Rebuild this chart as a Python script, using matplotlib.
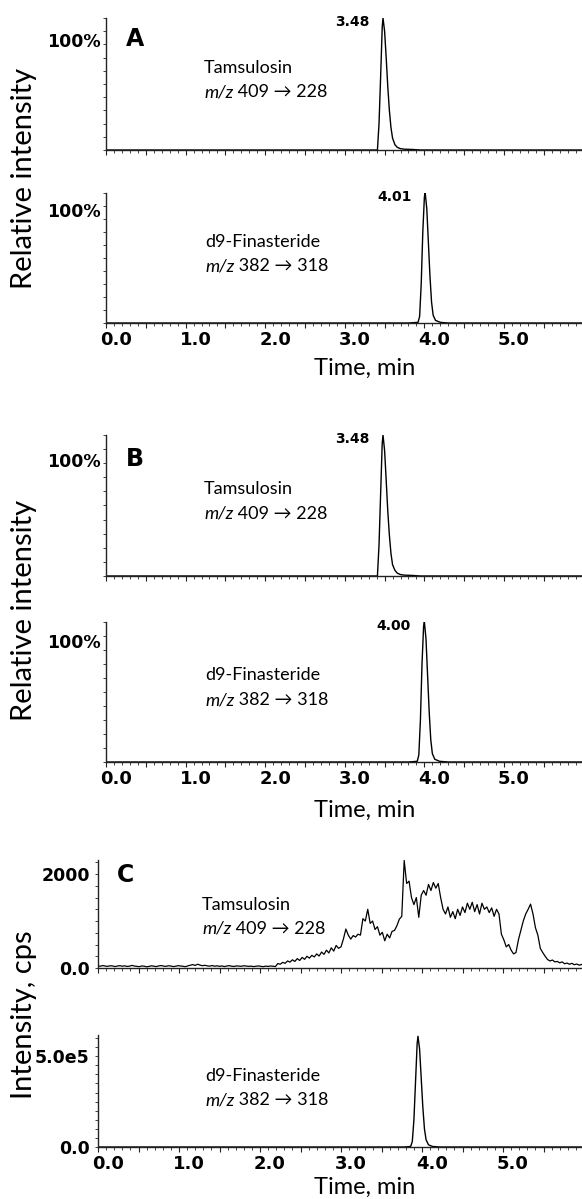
import numpy as np
import matplotlib
matplotlib.use("Agg")
import matplotlib.pyplot as plt
import matplotlib.transforms as mtransforms
from matplotlib.ticker import MultipleLocator

plt.rcParams['font.family'] = ['Lato', 'DejaVu Sans']

# ---------------- data ----------------
x_tick_values = [0.0, 1.0, 2.0, 3.0, 4.0, 5.0]
x_tick_labels = ['0.0', '1.0', '2.0', '3.0', '4.0', '5.0']

# Panel A/B relative intensity traces (fraction of max)
tams_A_t = [0.00, 3.30, 3.41, 3.43, 3.45, 3.47, 3.48, 3.50, 3.52, 3.54, 3.56, 3.58, 3.60, 3.63, 3.66, 3.70, 3.75, 3.85, 3.95, 5.98]
tams_A_v = [0.00, 0.00, 0.00, 0.20, 0.55, 0.93, 1.00, 0.90, 0.70, 0.48, 0.30, 0.17, 0.09, 0.04, 0.02, 0.010, 0.006, 0.004, 0.00, 0.00]
fin_A_t = [0.00, 3.80, 3.92, 3.94, 3.96, 3.98, 4.00, 4.01, 4.03, 4.05, 4.07, 4.09, 4.11, 4.14, 4.20, 4.30, 5.98]
fin_A_v = [0.00, 0.00, 0.005, 0.05, 0.30, 0.70, 0.97, 1.00, 0.88, 0.62, 0.36, 0.16, 0.06, 0.02, 0.005, 0.00, 0.00]

tams_B_t = [0.00, 3.30, 3.41, 3.43, 3.45, 3.47, 3.48, 3.50, 3.52, 3.54, 3.56, 3.58, 3.60, 3.63, 3.66, 3.70, 3.75, 3.85, 3.95, 5.98]
tams_B_v = [0.00, 0.00, 0.00, 0.22, 0.58, 0.94, 1.00, 0.89, 0.68, 0.46, 0.29, 0.16, 0.08, 0.04, 0.02, 0.010, 0.006, 0.004, 0.00, 0.00]
fin_B_t = [0.00, 3.80, 3.91, 3.93, 3.95, 3.97, 3.99, 4.00, 4.02, 4.04, 4.06, 4.08, 4.10, 4.13, 4.19, 4.30, 5.98]
fin_B_v = [0.00, 0.00, 0.005, 0.05, 0.30, 0.70, 0.97, 1.00, 0.88, 0.62, 0.36, 0.16, 0.06, 0.02, 0.005, 0.00, 0.00]

peak_labels_A = ['3.48', '4.01']
peak_labels_B = ['3.48', '4.00']

# Panel C: blank-plasma Tamsulosin trace (cps), sampled every 0.03 min from 0.00 min
c_tams_t0 = 0.0
c_tams_dt = 0.03
c_tams_v = [
    45, 38, 52, 41, 35, 48, 44, 30, 42, 50,
    38, 46, 33, 40, 55, 42, 36, 28, 44, 39,
    25, 34, 47, 38, 30, 45, 52, 40, 35, 48,
    42, 30, 38, 50, 44, 36, 28, 46, 60, 72,
    55, 80, 62, 48, 58, 45, 40, 52, 38, 47,
    35, 44, 30, 42, 50, 38, 33, 45, 40, 36,
    48, 42, 35, 40, 30, 38, 44, 36, 28, 40,
    34, 42, 38, 30, 95, 80, 120, 100, 150, 125,
    175, 140, 200, 160, 225, 185, 250, 210, 270, 235,
    300, 255, 340, 290, 380, 320, 430, 360, 480, 420,
    450, 620, 830, 700, 615, 690, 660, 720, 700, 1050,
    1000, 1250, 950, 1000, 820, 880, 700, 760, 580, 720,
    640, 780, 800, 900, 1040, 1100, 2290, 1800, 1850, 1500,
    1350, 1500, 1080, 1550, 1650, 1550, 1780, 1650, 1820, 1700,
    1800, 1500, 1250, 1150, 1300, 1080, 1200, 1050, 1250, 1120,
    1300, 1180, 1380, 1250, 1400, 1200, 1350, 1150, 1380, 1250,
    1300, 1180, 1280, 1100, 1250, 1150, 720, 600, 450, 500,
    380, 300, 330, 600, 800, 1000, 1150, 1250, 1360, 1150,
    860, 700, 420, 330, 250, 180, 150, 170, 130, 140,
    110, 130, 90, 105, 80, 100, 70, 85, 60, 75,
]
c_tams_t = [round(c_tams_t0 + c_tams_dt * i, 3) for i in range(len(c_tams_v))]

# Panel C: d9-Finasteride trace (cps)
c_fin_t = [0.00, 3.78, 3.86, 3.88, 3.90, 3.92, 3.94, 3.95, 3.97, 3.99, 4.01, 4.03, 4.05, 4.08, 4.13, 4.22, 5.98]
c_fin_v = [0, 0, 3e3, 3e4, 1.5e5, 3.6e5, 5.7e5, 6.1e5, 5.4e5, 3.8e5, 2.2e5, 1.0e5, 4e4, 1.2e4, 3e3, 0, 0]

c_yticks_top = [0, 2000]
c_yticklabels_top = ['0.0', '2000']
c_yticks_bot = [0, 5.0e5]
c_yticklabels_bot = ['0.0', '5.0e5']

compound_tams = ('Tamsulosin', ' 409 \u2192 228')
compound_fin = ('d9-Finasteride', ' 382 \u2192 318')

# ---------------- layout ----------------
W, H = 582, 1199
fig = plt.figure(figsize=(W / 100, H / 100), dpi=100)


def px_axes(left, top, right, bottom):
    return fig.add_axes([left / W, 1 - bottom / H, (right - left) / W, (bottom - top) / H])


def fx(x):
    return x / W


def fy(y):
    return 1 - y / H


def style(ax, xmax, show_xlabels):
    for s in ['top', 'right']:
        ax.spines[s].set_visible(False)
    for s in ['left', 'bottom']:
        ax.spines[s].set_linewidth(1.0)
        ax.spines[s].set_color('#222222')
    ax.set_xlim(0, xmax)
    ax.set_xticks(np.arange(0, 6.0, 0.5))
    ax.xaxis.set_minor_locator(MultipleLocator(0.1))
    ax.set_xticklabels([])
    if show_xlabels:
        # labels sit slightly to the right of their ticks, as in the source software
        trans = mtransforms.blended_transform_factory(ax.transData, ax.transAxes) + \
            mtransforms.ScaledTranslation(10 / 100, -8 / 100, fig.dpi_scale_trans)
        for v, lab in zip(x_tick_values, x_tick_labels):
            ax.text(v, 0, lab, transform=trans, ha='center', va='top', fontsize=13,
                    fontweight='bold', family='DejaVu Sans', clip_on=False)
    ax.tick_params(axis='x', which='major', direction='out', length=3.5, width=0.8,
                   colors='#222222')
    ax.tick_params(axis='x', which='minor', direction='out', length=2, width=0.6, colors='#222222')
    ax.tick_params(axis='y', which='both', direction='out', length=2, width=0.6, colors='#222222',
                   labelsize=12.5, pad=4)
    for lab in ax.get_yticklabels():
        lab.set_fontfamily('DejaVu Sans')
        lab.set_fontweight('bold')
        lab.set_color('black')


def compound(ax, x_px, y1_px, y2_px, names):
    fig.text(fx(x_px), fy(y1_px), names[0], ha='left', va='center', fontsize=13)
    t = fig.text(fx(x_px), fy(y2_px), 'm/z', ha='left', va='center', fontsize=13,
                 fontstyle='italic')
    ax.annotate(names[1], xy=(1, 0), xycoords=t, ha='left', va='bottom', fontsize=13,
                family=['Lato', 'DejaVu Sans'], annotation_clip=False)


def rel_panel(ax, t, v, label):
    ax.plot(t, v, color='black', lw=1.0)
    ax.set_ylim(0, 1.0)
    ax.set_yticks(np.arange(0, 1.01, 0.1))
    ax.set_yticklabels([])
    i = int(np.argmax(v))
    ax.annotate(label, xy=(t[i], v[i]), xytext=(-10, -3), textcoords='offset points',
                ha='right', va='center', fontsize=10, fontweight='bold', family='DejaVu Sans',
                annotation_clip=False)


def time_label(y_px):
    fig.text(fx(365), fy(y_px), 'Time, min', ha='center', va='center', fontsize=17)


def pct_label(y_px):
    fig.text(fx(101), fy(y_px), '100%', ha='right', va='center', fontsize=12.5,
             fontweight='bold', family='DejaVu Sans')


XMAX_AB = 5.98
XMAX_C = 5.975

# ---- Panel A ----
axA1 = px_axes(106, 18, 582, 150)
rel_panel(axA1, tams_A_t, tams_A_v, peak_labels_A[0])
style(axA1, XMAX_AB, False)
axA2 = px_axes(106, 193, 582, 323)
rel_panel(axA2, fin_A_t, fin_A_v, peak_labels_A[1])
style(axA2, XMAX_AB, True)
time_label(368)

pct_label(42)
pct_label(212)
fig.text(fx(126), fy(39), 'A', ha='left', va='center', fontsize=17, fontweight='bold',
         family='DejaVu Sans')
compound(axA1, 204, 68, 92, compound_tams)
compound(axA2, 205, 242, 266, compound_fin)
fig.text(fx(24), fy(178), 'Relative intensity', rotation=90, ha='center', va='center', fontsize=21)

# ---- Panel B ----
axB1 = px_axes(106, 435, 582, 576)
rel_panel(axB1, tams_B_t, tams_B_v, peak_labels_B[0])
style(axB1, XMAX_AB, False)
axB2 = px_axes(106, 622, 582, 762)
rel_panel(axB2, fin_B_t, fin_B_v, peak_labels_B[1])
style(axB2, XMAX_AB, True)
time_label(810)

pct_label(462)
pct_label(643)
fig.text(fx(126), fy(459), 'B', ha='left', va='center', fontsize=17, fontweight='bold',
         family='DejaVu Sans')
compound(axB1, 204, 489, 514, compound_tams)
compound(axB2, 205, 675, 700, compound_fin)
fig.text(fx(24), fy(610), 'Relative intensity', rotation=90, ha='center', va='center', fontsize=21)

# ---- Panel C ----
axC1 = px_axes(98, 860, 582, 968)
axC1.plot(c_tams_t, c_tams_v, color='black', lw=0.9)
axC1.set_ylim(0, 2300)
axC1.set_yticks(c_yticks_top)
axC1.set_yticklabels(c_yticklabels_top)
axC1.yaxis.set_minor_locator(MultipleLocator(250))
style(axC1, XMAX_C, False)

axC2 = px_axes(98, 1035, 582, 1147)
axC2.plot(c_fin_t, c_fin_v, color='black', lw=1.0)
axC2.set_ylim(0, 6.17e5)
axC2.set_yticks(c_yticks_bot)
axC2.set_yticklabels(c_yticklabels_bot)
axC2.yaxis.set_minor_locator(MultipleLocator(5e4))
style(axC2, XMAX_C, True)
time_label(1187)

fig.text(fx(117), fy(875), 'C', ha='left', va='center', fontsize=17, fontweight='bold',
         family='DejaVu Sans')
compound(axC1, 202, 905, 929, compound_tams)
compound(axC2, 205, 1076, 1100, compound_fin)
fig.text(fx(24), fy(1015), 'Intensity, cps', rotation=90, ha='center', va='center', fontsize=21)

fig.savefig('out.png', dpi=100)
